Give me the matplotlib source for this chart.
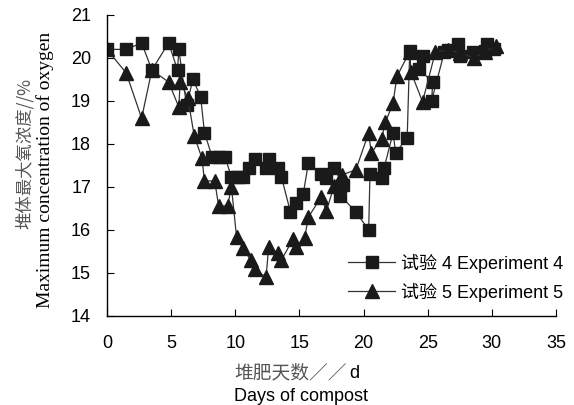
import matplotlib
matplotlib.use("Agg")
import matplotlib.pyplot as plt
from matplotlib import font_manager

# Experiment 4 (squares)
days_4 = [0, 1.5, 2.7, 3.5, 4.8, 5.5, 5.6, 6.2, 6.7, 7.3, 7.6, 8.2, 8.7, 9.2,
          9.7, 10.2, 10.6, 11.1, 11.5, 12.4, 12.6, 13.3, 13.6, 14.3, 14.7, 15.3,
          15.7, 16.7, 17.1, 17.7, 18.4, 18.2, 19.4, 20.4, 20.5, 21.4, 21.6, 22.3,
          22.5, 23.4, 23.6, 24.6, 24.3, 25.4, 25.3, 26.3, 26.6, 27.4, 27.5, 28.5,
          29.5, 29.6, 30.2]
oxy_4 = [20.2, 20.2, 20.35, 19.72, 20.35, 19.72, 20.2, 18.9, 19.5, 19.1, 18.26,
         17.7, 17.7, 17.7, 17.23, 17.23, 17.23, 17.44, 17.65, 17.44, 17.65, 17.44,
         17.23, 16.42, 16.63, 16.84, 17.56, 17.3, 17.2, 17.44, 17.05, 16.8, 16.42,
         16.0, 17.3, 17.2, 17.44, 18.26, 17.8, 18.14, 20.16, 20.05, 19.74, 19.44,
         19.0, 20.14, 20.19, 20.33, 20.05, 20.14, 20.16, 20.33, 20.2]

# Experiment 5 (triangles)
days_5 = [0, 1.5, 2.7, 3.5, 4.8, 5.6, 5.7, 6.3, 6.8, 7.4, 7.6, 8.4, 8.7, 9.4,
          9.7, 10.1, 10.6, 11.2, 11.5, 12.4, 12.6, 13.3, 13.6, 14.5, 14.7, 15.4,
          15.7, 16.7, 17.1, 17.7, 18.3, 19.4, 20.4, 20.6, 21.4, 21.7, 22.3, 22.6,
          23.6, 23.7, 24.6, 25.6, 26.6, 27.5, 28.6, 29.5, 30.3]
oxy_5 = [20.2, 19.65, 18.6, 19.72, 19.44, 18.86, 19.44, 19.07, 18.19, 17.67,
         17.14, 17.14, 16.56, 16.56, 17.0, 15.84, 15.58, 15.3, 15.1, 14.9, 15.6,
         15.47, 15.3, 15.79, 15.6, 15.81, 16.3, 16.77, 16.44, 17.02, 17.28, 17.4,
         18.26, 17.79, 18.12, 18.5, 18.95, 19.57, 20.15, 19.67, 18.98, 20.14,
         20.19, 20.12, 20.0, 20.14, 20.28]

x_ticks = [0, 5, 10, 15, 20, 25, 30, 35]
y_ticks = [14, 15, 16, 17, 18, 19, 20, 21]

installed = {f.name for f in font_manager.fontManager.ttflist}
narrow = "Liberation Sans Narrow" if "Liberation Sans Narrow" in installed else "Liberation Sans"
sans = [narrow, "Noto Sans CJK SC", "DejaVu Sans"]
cjk = ["Noto Sans CJK SC", "DejaVu Sans"]

fig = plt.figure(figsize=(5.74, 4.05), dpi=100)
ax = fig.add_axes([0.1864, 0.2198, 0.7822, 0.7432])

ink = "#1a1a1a"
ax.plot(days_4, oxy_4, color="#333333", lw=0.9, marker="s", ms=9,
        mfc=ink, mec=ink, label="试验 4 Experiment 4")
ax.plot(days_5, oxy_5, color="#333333", lw=0.9, marker="^", ms=9.5,
        mfc=ink, mec=ink, label="试验 5 Experiment 5")

ax.set_xlim(0, 35)
ax.set_ylim(14, 21)
ax.set_xticks(x_ticks)
ax.set_yticks(y_ticks)
for s in ["top", "right"]:
    ax.spines[s].set_visible(False)
for s in ["left", "bottom"]:
    ax.spines[s].set_color("black")
    ax.spines[s].set_linewidth(1.0)
ax.tick_params(direction="in", length=5, width=0.8, labelsize=13)
ax.tick_params(axis="y", pad=11.5)
ax.tick_params(axis="x", pad=13.5)
for lab in ax.get_xticklabels() + ax.get_yticklabels():
    lab.set_family(sans)

leg = ax.legend(loc="lower right", bbox_to_anchor=(1.047, 0.0), frameon=False,
                prop={"family": sans, "size": 13}, handlelength=2.6,
                handletextpad=0.3, labelspacing=0.55, borderaxespad=0.4)

# axis labels
fig.text(0.042, 0.62, "堆体最大氧浓度//%", rotation=90, ha="center", va="center",
         family=cjk, fontsize=12.5, color="#555555")
fig.text(0.079, 0.58, "Maximum concentration of oxygen", rotation=90,
         ha="center", va="center", family=["Liberation Serif", "DejaVu Serif"],
         fontsize=14)
fig.text(0.408, 0.079, "堆肥天数／／", ha="left", va="center", family=cjk,
         fontsize=13.5, color="#555555")
fig.text(0.609, 0.079, "d", ha="left", va="center", family=sans, fontsize=13)
fig.text(0.408, 0.022, "Days of compost", ha="left", va="center",
         family=sans, fontsize=13)

fig.savefig("out.png", dpi=100)
